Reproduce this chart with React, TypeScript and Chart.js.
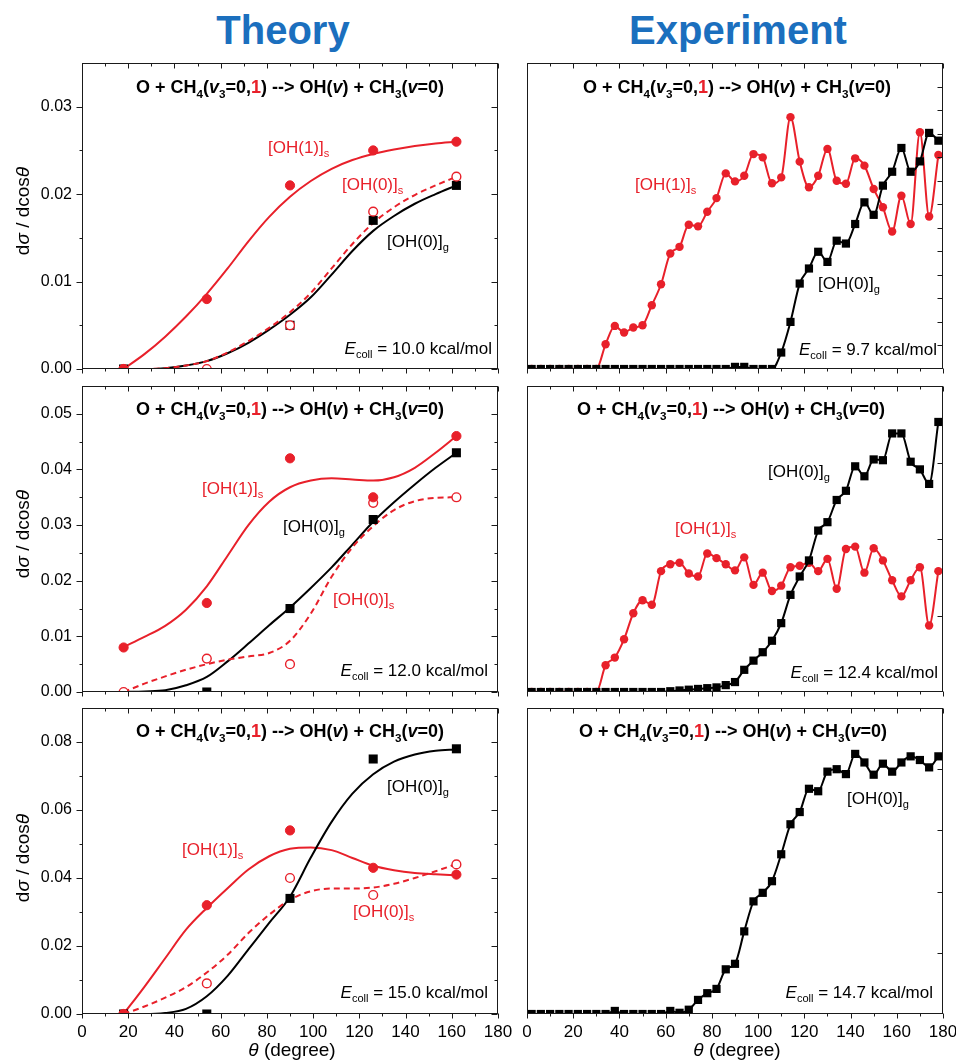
import React, { useEffect, useRef } from 'react';
import { Chart, registerables } from 'chart.js';
Chart.register(...registerables);

const RED = '#e8202a';
const BLUE = '#1b6fbe';
const FONT = '"Liberation Sans", Arial, Helvetica, sans-serif';

// ---------- Theory data ----------
const thetaTheory = [18, 54, 90, 126, 162];
const thetaFit = [18, 27, 36, 45, 54, 63, 72, 81, 90, 99, 108, 117, 126, 135, 144, 153, 162];

const pts10_OH1s = [0, 0.008, 0.021, 0.025, 0.026];
const pts10_OH0s = [0, 0, 0.005, 0.018, 0.022];
const pts10_OH0g = [0, null, 0.005, 0.017, 0.021];
const fit10_OH1s = [0, 0.0017, 0.0037, 0.006, 0.0086, 0.0115, 0.0146, 0.0174, 0.0197, 0.0215, 0.0229, 0.0239, 0.0246, 0.0251, 0.0255, 0.0258, 0.026];
const fit10_OH0g = [0, 0, 0.0001, 0.0004, 0.0009, 0.0018, 0.003, 0.0045, 0.0062, 0.0082, 0.0108, 0.0135, 0.0158, 0.0175, 0.0189, 0.02, 0.021];
const fit10_OH0s = [0, 0, 0.0001, 0.0004, 0.0009, 0.0019, 0.0032, 0.0047, 0.0065, 0.0087, 0.0115, 0.0143, 0.0167, 0.0185, 0.0199, 0.021, 0.022];

const pts12_OH1s = [0.008, 0.016, 0.042, 0.035, 0.046];
const pts12_OH0s = [0, 0.006, 0.005, 0.034, 0.035];
const pts12_OH0g = [null, 0, 0.015, 0.031, 0.043];
const fit12_OH1s = [0.0081, 0.0099, 0.0119, 0.0148, 0.019, 0.0245, 0.03, 0.0342, 0.0368, 0.038, 0.0384, 0.0382, 0.038, 0.0386, 0.0403, 0.043, 0.046];
const fit12_OH0g = [0, 0.0001, 0.0003, 0.0012, 0.0027, 0.0055, 0.0087, 0.012, 0.0152, 0.0187, 0.0224, 0.0265, 0.0306, 0.0341, 0.0373, 0.0403, 0.043];
const fit12_OH0s = [0, 0.0015, 0.0028, 0.004, 0.005, 0.0058, 0.0064, 0.007, 0.0092, 0.0141, 0.0207, 0.026, 0.0298, 0.0327, 0.0343, 0.0349, 0.035];

const pts15_OH1s = [0, 0.032, 0.054, 0.043, 0.041];
const pts15_OH0s = [0, 0.009, 0.04, 0.035, 0.044];
const pts15_OH0g = [0, 0, 0.034, 0.075, 0.078];
const fit15_OH1s = [0, 0.008, 0.0164, 0.0248, 0.0312, 0.037, 0.0425, 0.0464, 0.0486, 0.049, 0.0482, 0.0459, 0.0436, 0.0423, 0.0415, 0.0411, 0.0408];
const fit15_OH0g = [0, 0, 0.0003, 0.0015, 0.0052, 0.0112, 0.019, 0.0268, 0.0345, 0.046, 0.0565, 0.0648, 0.0705, 0.0742, 0.0763, 0.0774, 0.0778];
const fit15_OH0s = [0, 0.0022, 0.0048, 0.0079, 0.0122, 0.0174, 0.0238, 0.0292, 0.0336, 0.0361, 0.0369, 0.0369, 0.0372, 0.0383, 0.04, 0.042, 0.0441];

// ---------- Experiment data (arbitrary units) ----------
const thetaExp = [2, 6, 10, 14, 18, 22, 26, 30, 34, 38, 42, 46, 50, 54, 58, 62, 66, 70, 74, 78, 82, 86, 90, 94, 98, 102, 106, 110, 114, 118, 122, 126, 130, 134, 138, 142, 146, 150, 154, 158, 162, 166, 170, 174, 178];

const exp97_OH1s = [0, 0, 0, 0, 0, 0, 0, 0, 1.05, 1.83, 1.55, 1.76, 1.86, 2.71, 3.6, 4.91, 5.19, 6.13, 6.06, 6.68, 7.26, 8.31, 7.97, 8.21, 9.13, 8.99, 7.89, 8.14, 10.7, 8.81, 7.72, 8.21, 9.35, 8.0, 7.87, 8.95, 8.64, 7.65, 6.87, 5.84, 7.36, 6.16, 10.06, 6.48, 9.09];
const exp97_OH0g = [0, 0, 0, 0, 0, 0, 0, 0, 0, 0, 0, 0, 0, 0, 0, 0, 0, 0, 0, 0, 0, 0, 0.09, 0.09, 0, 0, 0, 0.7, 2.0, 3.63, 4.27, 4.98, 4.55, 5.45, 5.33, 6.16, 7.08, 6.55, 7.79, 8.38, 9.39, 8.38, 8.82, 10.03, 9.7];

const exp124_OH1s = [0, 0, 0, 0, 0, 0, 0, 0, 0.35, 0.45, 0.69, 1.03, 1.2, 1.14, 1.58, 1.67, 1.69, 1.55, 1.51, 1.81, 1.75, 1.67, 1.59, 1.76, 1.4, 1.56, 1.32, 1.39, 1.63, 1.65, 1.69, 1.58, 1.74, 1.35, 1.87, 1.9, 1.56, 1.88, 1.72, 1.46, 1.25, 1.46, 1.63, 0.87, 1.58];
const exp124_OH0g = [0, 0, 0, 0, 0, 0, 0, 0, 0, 0, 0, 0, 0, 0, 0, 0.01, 0.02, 0.03, 0.04, 0.05, 0.06, 0.09, 0.13, 0.29, 0.41, 0.52, 0.67, 0.9, 1.27, 1.51, 1.72, 2.11, 2.22, 2.51, 2.63, 2.95, 2.82, 3.04, 3.03, 3.38, 3.38, 3.01, 2.91, 2.72, 3.53];

const exp147_OH0g = [0, 0, 0, 0, 0, 0, 0, 0, 0, 0.05, 0, 0, 0, 0, 0, 0.05, 0.02, 0.07, 0.23, 0.34, 0.41, 0.73, 0.82, 1.35, 1.84, 1.98, 2.17, 2.61, 3.1, 3.3, 3.68, 3.64, 3.96, 4.0, 3.92, 4.25, 4.11, 3.91, 4.09, 3.96, 4.11, 4.21, 4.15, 4.03, 4.21];

// ---------- Axis ticks ----------
const xMajor = [0, 20, 40, 60, 80, 100, 120, 140, 160, 180];
const xMinor = [10, 30, 50, 70, 90, 110, 130, 150, 170];
const yMajT10 = [0, 0.01, 0.02, 0.03];
const yMinT10 = [0.005, 0.015, 0.025];
const yMajT12 = [0, 0.01, 0.02, 0.03, 0.04, 0.05];
const yMinT12 = [0.005, 0.015, 0.025, 0.035, 0.045];
const yMajT15 = [0, 0.02, 0.04, 0.06, 0.08];
const yMinT15 = [0.01, 0.03, 0.05, 0.07];
const yTickE97 = [1, 2, 3, 4, 5, 6, 7, 8, 9, 10, 11, 12];
const yTickE124 = [1, 2, 3];
const yTickE147 = [1, 2, 3, 4];

// ---------- layout ----------
const ROWS = [{ top: 63, bottom: 369 }, { top: 386, bottom: 692 }, { top: 708, bottom: 1014 }];
const COLS = [{ left: 82, right: 498, cLeft: 0, cWidth: 512 }, { left: 527, right: 943, cLeft: 515, cWidth: 441 }];

type P = { x: number; y: number | null };
const zip = (xs: number[], ys: (number | null)[]): P[] => xs.map((x, i) => ({ x, y: ys[i] }));

const filled = (ys: (number | null)[], order: number) => ({
  data: zip(thetaTheory, ys), showLine: false, pointStyle: 'circle', pointRadius: 4.6,
  pointBackgroundColor: RED, pointBorderColor: RED, pointBorderWidth: 1, order,
});
const openC = (ys: (number | null)[], order: number) => ({
  data: zip(thetaTheory, ys), showLine: false, pointStyle: 'circle', pointRadius: 4.4,
  pointBackgroundColor: '#ffffff', pointBorderColor: RED, pointBorderWidth: 1.4, order,
});
const square = (ys: (number | null)[], order: number) => ({
  data: zip(thetaTheory, ys), showLine: false, pointStyle: 'rect', pointRadius: 6.4,
  pointBackgroundColor: '#000', pointBorderColor: '#000', pointBorderWidth: 0, order,
});
const curve = (ys: number[], color: string, dashed: boolean, order: number) => ({
  data: zip(thetaFit, ys), pointRadius: 0, borderColor: color, borderWidth: 2,
  borderDash: dashed ? [6, 4] : [], cubicInterpolationMode: 'monotone', fill: false, order,
});
const expLine = (ys: number[], color: string, style: string, order: number) => ({
  data: zip(thetaExp, ys), borderColor: color, borderWidth: 2, pointStyle: style,
  pointRadius: style === 'rect' ? 5.8 : 4.2, pointBackgroundColor: color, pointBorderColor: color,
  pointBorderWidth: 0, cubicInterpolationMode: 'monotone', fill: false, order,
});

type Panel = {
  col: number; row: number; yMax: number; yMaj: number[]; yMin: number[];
  labels: boolean; datasets: any[];
};

const PANELS: Panel[] = [
  {
    col: 0, row: 0, yMax: 0.035, yMaj: yMajT10, yMin: yMinT10, labels: true,
    datasets: [filled(pts10_OH1s, 0), openC(pts10_OH0s, 1), square(pts10_OH0g, 2),
      curve(fit10_OH0s, RED, true, 3), curve(fit10_OH0g, '#000', false, 4), curve(fit10_OH1s, RED, false, 5)],
  },
  {
    col: 1, row: 0, yMax: 13, yMaj: yTickE97, yMin: [], labels: false,
    datasets: [expLine(exp97_OH0g, '#000', 'rect', 0), expLine(exp97_OH1s, RED, 'circle', 1)],
  },
  {
    col: 0, row: 1, yMax: 0.055, yMaj: yMajT12, yMin: yMinT12, labels: true,
    datasets: [filled(pts12_OH1s, 0), openC(pts12_OH0s, 1), square(pts12_OH0g, 2),
      curve(fit12_OH0s, RED, true, 3), curve(fit12_OH0g, '#000', false, 4), curve(fit12_OH1s, RED, false, 5)],
  },
  {
    col: 1, row: 1, yMax: 4, yMaj: yTickE124, yMin: [], labels: false,
    datasets: [expLine(exp124_OH0g, '#000', 'rect', 0), expLine(exp124_OH1s, RED, 'circle', 1)],
  },
  {
    col: 0, row: 2, yMax: 0.09, yMaj: yMajT15, yMin: yMinT15, labels: true,
    datasets: [filled(pts15_OH1s, 0), openC(pts15_OH0s, 1), square(pts15_OH0g, 2),
      curve(fit15_OH0s, RED, true, 3), curve(fit15_OH0g, '#000', false, 4), curve(fit15_OH1s, RED, false, 5)],
  },
  {
    col: 1, row: 2, yMax: 5, yMaj: yTickE147, yMin: [], labels: false,
    datasets: [expLine(exp147_OH0g, '#000', 'rect', 0)],
  },
];

function geom(p: Panel) {
  const c = COLS[p.col];
  const r = ROWS[p.row];
  const xH = p.row === 2 ? 32 : 8;
  const top = r.top - 8;
  return {
    left: c.cLeft, top, w: c.cWidth, h: r.bottom - top + xH,
    yW: c.left - c.cLeft, padR: c.cLeft + c.cWidth - c.right, xH,
  };
}

const framePlugin = {
  id: 'frame',
  afterDraw(chart: any, _args: any, opts: any) {
    const { ctx, chartArea: a, scales } = chart;
    const xs = scales.x, ys = scales.y;
    ctx.save();
    ctx.strokeStyle = '#1a1a1a';
    ctx.lineWidth = 1;
    const L = Math.round(a.left) + 0.5, R = Math.round(a.right) - 0.5;
    const T = Math.round(a.top) + 0.5, B = Math.round(a.bottom) - 0.5;
    ctx.strokeRect(L, T, R - L, B - T);
    ctx.beginPath();
    const xt = (v: number, len: number) => {
      const px = Math.round(xs.getPixelForValue(v)) + 0.5;
      ctx.moveTo(px, B); ctx.lineTo(px, B + len);
      ctx.moveTo(px, T); ctx.lineTo(px, T + len);
    };
    (opts.xMajor || []).forEach((v: number) => xt(v, 5));
    (opts.xMinor || []).forEach((v: number) => xt(v, 3));
    const yt = (v: number, len: number, left: boolean) => {
      const py = Math.round(ys.getPixelForValue(v)) + 0.5;
      if (left) { ctx.moveTo(L, py); ctx.lineTo(L - len, py); }
      ctx.moveTo(R, py); ctx.lineTo(R - len, py);
    };
    (opts.yMajor || []).forEach((v: number) => yt(v, opts.majLen, opts.leftTicks));
    (opts.yMinor || []).forEach((v: number) => yt(v, 3, opts.leftTicks));
    ctx.stroke();
    ctx.restore();
  },
};

function buildConfig(p: Panel): any {
  const g = geom(p);
  const showX = p.row === 2;
  return {
    type: 'line',
    data: { datasets: p.datasets },
    options: {
      animation: false,
      responsive: false,
      maintainAspectRatio: false,
      events: [],
      layout: { padding: { top: 8, right: g.padR, left: 0, bottom: 0 } },
      plugins: {
        legend: { display: false },
        tooltip: { enabled: false },
        frame: {
          xMajor, xMinor,
          yMajor: p.yMaj,
          yMinor: p.yMin,
          majLen: p.labels ? 6 : 5,
          leftTicks: p.labels,
        },
      },
      scales: {
        x: {
          type: 'linear', min: 0, max: 180,
          grid: { display: false, drawTicks: false },
          border: { display: false },
          afterBuildTicks: (s: any) => { s.ticks = xMajor.map((v) => ({ value: v })); },
          ticks: {
            display: showX, padding: 8, color: '#000',
            font: { family: FONT, size: 17 },
            maxRotation: 0, autoSkip: false,
          },
          afterFit: (s: any) => { s.height = g.xH; s.paddingLeft = 0; s.paddingRight = 0; },
        },
        y: {
          type: 'linear', min: 0, max: p.yMax,
          grid: { display: false, drawTicks: false },
          border: { display: false },
          afterBuildTicks: (s: any) => { s.ticks = p.yMaj.map((v) => ({ value: v })); },
          ticks: {
            display: p.labels, padding: 10, color: '#000',
            font: { family: FONT, size: 16 },
            callback: (v: any) => Number(v).toFixed(2),
          },
          afterFit: (s: any) => { s.width = g.yW; s.paddingTop = 0; s.paddingBottom = 0; },
        },
      },
    },
    plugins: [framePlugin],
  };
}

// ---------- text helpers ----------
const Sub = ({ children }: { children: React.ReactNode }) => (
  <span style={{ fontSize: '0.65em', verticalAlign: '-0.4em' }}>{children}</span>
);

function Txt(props: {
  x: number; y: number; size?: number; color?: string; bold?: boolean;
  align?: 'left' | 'center' | 'right'; children: React.ReactNode;
}) {
  const { x, y, size = 17, color = '#000', bold = false, align = 'left', children } = props;
  const tx = align === 'center' ? 'translateX(-50%)' : align === 'right' ? 'translateX(-100%)' : 'none';
  return (
    <div style={{
      position: 'absolute', left: x, top: y - 0.3465 * size, fontSize: size, lineHeight: 0,
      color, fontWeight: bold ? 700 : 400, whiteSpace: 'nowrap', transform: tx, fontFamily: FONT,
    }}>{children}</div>
  );
}

const Reaction = () => (
  <>O + CH<Sub>4</Sub>(<i>v</i><Sub>3</Sub>=0,<span style={{ color: RED }}>1</span>) {'-->'} OH(<i>v</i>) + CH<Sub>3</Sub>(<i>v</i>=0)</>
);
const Ecoll = ({ v }: { v: string }) => (<><i>E</i><Sub>coll</Sub> = {v} kcal/mol</>);
const OH1s = () => (<>[OH(1)]<Sub>s</Sub></>);
const OH0s = () => (<>[OH(0)]<Sub>s</Sub></>);
const OH0g = () => (<>[OH(0)]<Sub>g</Sub></>);

function YTitle({ cy }: { cy: number }) {
  return (
    <div style={{
      position: 'absolute', left: 22, top: cy, fontSize: 19, lineHeight: 1, whiteSpace: 'nowrap',
      transform: 'translate(-50%, -50%) rotate(-90deg)', fontFamily: FONT, color: '#000',
    }}>d<i>σ</i> / dcos<i>θ</i></div>
  );
}

export default function App() {
  const refs = useRef<(HTMLCanvasElement | null)[]>([]);
  useEffect(() => {
    Chart.defaults.font.family = FONT;
    const charts = PANELS.map((p, i) => new Chart(refs.current[i] as HTMLCanvasElement, buildConfig(p)));
    return () => charts.forEach((c) => c.destroy());
  }, []);

  return (
    <div style={{ position: 'absolute', left: 0, top: 0, width: 956, height: 1062, background: '#fff', overflow: 'hidden', fontFamily: FONT }}>
      {PANELS.map((p, i) => {
        const g = geom(p);
        return (
          <canvas key={i} ref={(el) => { refs.current[i] = el; }} width={g.w} height={g.h}
            style={{ position: 'absolute', left: g.left, top: g.top, width: g.w, height: g.h }} />
        );
      })}

      <Txt x={283} y={44} size={40} bold color={BLUE} align="center">Theory</Txt>
      <Txt x={738} y={44} size={40} bold color={BLUE} align="center">Experiment</Txt>

      {/* panel titles */}
      <Txt x={290} y={93} size={18} bold align="center"><Reaction /></Txt>
      <Txt x={737} y={93} size={18} bold align="center"><Reaction /></Txt>
      <Txt x={290} y={415} size={18} bold align="center"><Reaction /></Txt>
      <Txt x={731} y={415} size={18} bold align="center"><Reaction /></Txt>
      <Txt x={290} y={737} size={18} bold align="center"><Reaction /></Txt>
      <Txt x={733} y={737} size={18} bold align="center"><Reaction /></Txt>

      {/* theory 10.0 */}
      <Txt x={268} y={154} color={RED}><OH1s /></Txt>
      <Txt x={342} y={191} color={RED}><OH0s /></Txt>
      <Txt x={387} y={248}><OH0g /></Txt>
      <Txt x={492} y={355} align="right"><Ecoll v="10.0" /></Txt>

      {/* theory 12.0 */}
      <Txt x={202} y={495} color={RED}><OH1s /></Txt>
      <Txt x={283} y={533}><OH0g /></Txt>
      <Txt x={333} y={606} color={RED}><OH0s /></Txt>
      <Txt x={488} y={677} align="right"><Ecoll v="12.0" /></Txt>

      {/* theory 15.0 */}
      <Txt x={387} y={793}><OH0g /></Txt>
      <Txt x={182} y={856} color={RED}><OH1s /></Txt>
      <Txt x={353} y={918} color={RED}><OH0s /></Txt>
      <Txt x={488} y={999} align="right"><Ecoll v="15.0" /></Txt>

      {/* experiment 9.7 */}
      <Txt x={635} y={191} color={RED}><OH1s /></Txt>
      <Txt x={818} y={290}><OH0g /></Txt>
      <Txt x={937} y={356} align="right"><Ecoll v="9.7" /></Txt>

      {/* experiment 12.4 */}
      <Txt x={768} y={478}><OH0g /></Txt>
      <Txt x={675} y={535} color={RED}><OH1s /></Txt>
      <Txt x={938} y={679} align="right"><Ecoll v="12.4" /></Txt>

      {/* experiment 14.7 */}
      <Txt x={847} y={805}><OH0g /></Txt>
      <Txt x={933} y={999} align="right"><Ecoll v="14.7" /></Txt>

      <YTitle cy={211} />
      <YTitle cy={534} />
      <YTitle cy={858} />

      <Txt x={292} y={1057} size={19} align="center"><i>θ</i> (degree)</Txt>
      <Txt x={737} y={1057} size={19} align="center"><i>θ</i> (degree)</Txt>
    </div>
  );
}
